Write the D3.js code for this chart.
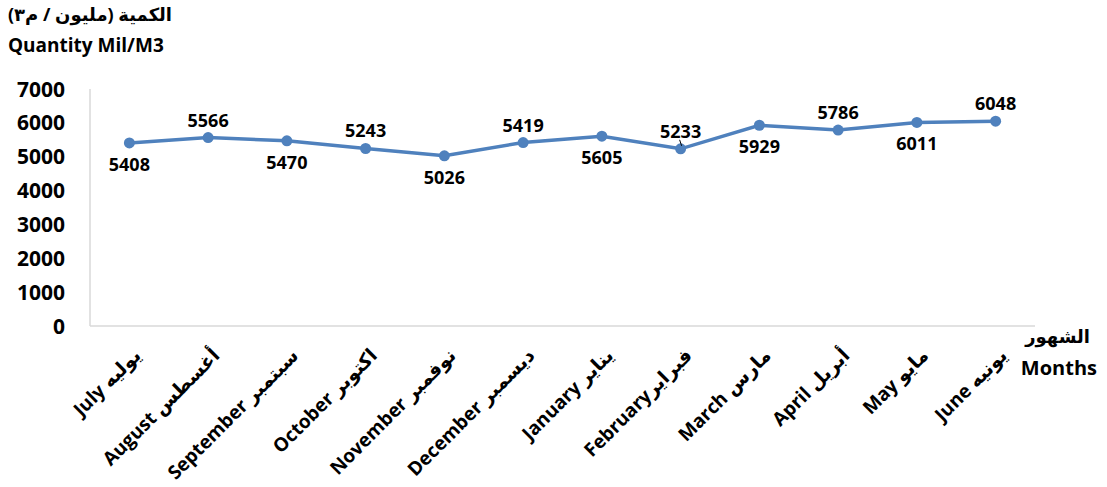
<!DOCTYPE html>
<head>
<meta charset="utf-8">
<script src="https://cdn.jsdelivr.net/npm/d3@7"></script>
<style>
body { margin: 0; background: #fff; }
text { font-family: "Open Sans", "DejaVu Sans", sans-serif; font-weight: bold; fill: #000; }
</style>
</head>
<body>
<script>

var monthsEn = ["July", "August", "September", "October", "November", "December",
                "January", "February", "March", "April", "May", "June"];
var monthsAr = ["يوليه", "أغسطس", "سبتمبر", "اكتوبر", "نوفمبر", "ديسمبر",
                "يناير", "فبراير", "مارس", "أبريل", "مايو", "يونيه"];
var quantity = [5408, 5566, 5470, 5243, 5026, 5419, 5605, 5233, 5929, 5786, 6011, 6048];
var labelAbove = [false, true, false, true, false, true, false, true, false, true, false, true];
var yTicks = [0, 1000, 2000, 3000, 4000, 5000, 6000, 7000];

var width = 1107, height = 487;
var margin = {top: 89, right: 72, bottom: 160, left: 90};

var svg = d3.select("body").append("svg")
    .attr("width", width)
    .attr("height", height);

var x = d3.scaleBand()
    .domain(monthsEn)
    .range([margin.left, width - margin.right]);

var y = d3.scaleLinear()
    .domain([0, 7000])
    .range([height - margin.bottom - 1, margin.top]);

// axis lines
svg.append("line")
    .attr("x1", margin.left).attr("x2", margin.left)
    .attr("y1", y(7000)).attr("y2", y(0))
    .style("stroke", "#d9d9d9").style("stroke-width", 1.5);
svg.append("line")
    .attr("x1", margin.left).attr("x2", width - margin.right)
    .attr("y1", y(0)).attr("y2", y(0))
    .style("stroke", "#d9d9d9").style("stroke-width", 1.5);

// y tick labels
svg.selectAll(".ytick")
    .data(yTicks)
    .enter().append("text")
    .attr("class", "ytick")
    .attr("x", 65)
    .attr("y", d => y(d))
    .attr("dy", "0.36em")
    .attr("text-anchor", "end")
    .style("font-size", "21px")
    .text(d => d);

// x labels
svg.selectAll(".xlab")
    .data(monthsEn)
    .enter().append("text")
    .attr("class", "xlab")
    .attr("transform", d => "translate(" + (x(d) + x.bandwidth() / 2 + 8) + "," + 352 + ") rotate(-45)")
    .attr("text-anchor", "end")
    .attr("dy", "0.35em")
    .style("font-size", "19px")
    .text((d, i) => d + (d == "February" ? "" : " ") + monthsAr[i]);

// line
var line = d3.line()
    .x((d, i) => x(monthsEn[i]) + x.bandwidth() / 2)
    .y(d => y(d));

svg.append("path")
    .datum(quantity)
    .attr("d", line)
    .style("fill", "none")
    .style("stroke", "#4f81bd")
    .style("stroke-width", 3.5);

svg.selectAll(".dot")
    .data(quantity)
    .enter().append("circle")
    .attr("class", "dot")
    .attr("cx", (d, i) => x(monthsEn[i]) + x.bandwidth() / 2)
    .attr("cy", d => y(d))
    .attr("r", 5.5)
    .style("fill", "#4f81bd");

// data labels
svg.selectAll(".dlab")
    .data(quantity)
    .enter().append("text")
    .attr("class", "dlab")
    .attr("x", (d, i) => x(monthsEn[i]) + x.bandwidth() / 2)
    .attr("y", (d, i) => labelAbove[i] ? y(d) - 11 : y(d) + 28)
    .attr("text-anchor", "middle")
    .style("font-size", "18px")
    .text(d => d);

// small leader line on February label
var fx = x("February") + x.bandwidth() / 2;
svg.append("line")
    .attr("x1", fx - 1).attr("x2", fx + 1)
    .attr("y1", y(5233) - 9).attr("y2", y(5233) - 3)
    .style("stroke", "#000").style("stroke-width", 1);

// axis titles
svg.append("text")
    .attr("x", 90).attr("y", 21)
    .attr("text-anchor", "middle")
    .style("font-size", "18px")
    .text("الكمية (مليون / م٣)");
svg.append("text")
    .attr("x", 8).attr("y", 52)
    .style("font-size", "19px")
    .text("Quantity Mil/M3");

svg.append("text")
    .attr("x", 1090).attr("y", 343)
    .attr("text-anchor", "end")
    .style("font-size", "18px")
    .text("الشهور");
svg.append("text")
    .attr("x", 1097).attr("y", 375)
    .attr("text-anchor", "end")
    .style("font-size", "20px")
    .text("Months");

</script>
</body>
</html>
